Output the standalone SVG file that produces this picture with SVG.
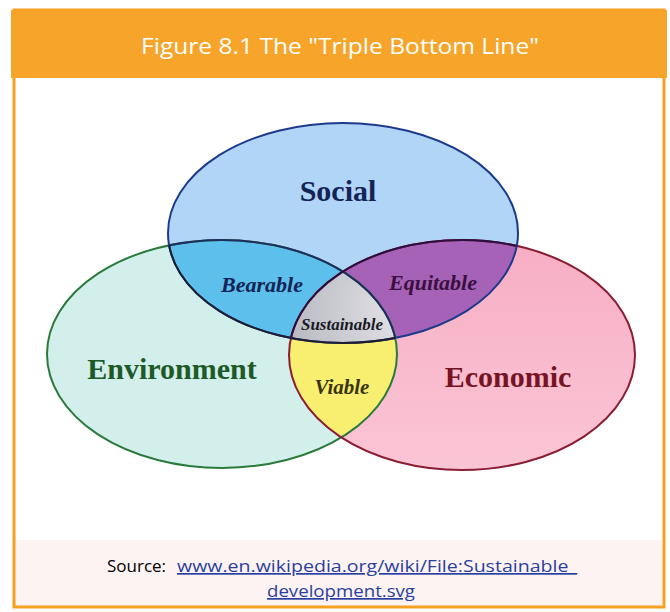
<svg xmlns="http://www.w3.org/2000/svg" width="670" height="612" viewBox="0 0 670 612">
<style>
.lbl{font-family:"Liberation Serif",serif;font-weight:bold;text-anchor:middle}
.it{font-style:italic}
.src{font-family:"Open Sans","Liberation Sans",sans-serif;font-size:17px}
.lnk{fill:#2a3f9e;text-decoration:underline}
</style>
<defs>
<clipPath id="cS"><ellipse cx="343" cy="233" rx="175" ry="110"/></clipPath>
<clipPath id="cE"><ellipse cx="222" cy="354" rx="175" ry="114"/></clipPath>
<clipPath id="cC"><ellipse cx="462" cy="355" rx="173" ry="115"/></clipPath>
<radialGradient id="gSus" cx="0.55" cy="0.3" r="0.8">
<stop offset="0" stop-color="#ffffff"/>
<stop offset="1" stop-color="#9a9aa8"/>
</radialGradient>
<linearGradient id="gPink" x1="0" y1="0" x2="0" y2="1">
<stop offset="0" stop-color="#f7aec4"/>
<stop offset="1" stop-color="#fbc5d5"/>
</linearGradient>
</defs>
<rect x="0" y="0" width="670" height="612" fill="#ffffff"/>
<rect x="14" y="540" width="648" height="66" fill="#fdf3f3"/>
<rect x="14" y="10" width="650" height="597" fill="none" stroke="#f5a020" stroke-width="3"/>
<rect x="11" y="10" width="656" height="68" fill="#f6a52a"/>
<text x="340" y="54" font-family="Open Sans, Liberation Sans, sans-serif" font-size="22" fill="#ffffff" text-anchor="middle" textLength="398" lengthAdjust="spacingAndGlyphs">Figure 8.1 The "Triple Bottom Line"</text>

<g id="environment">
<ellipse cx="222" cy="354" rx="175" ry="114" fill="#d3efeb"/>
</g>
<g id="economic">
<ellipse cx="462" cy="355" rx="173" ry="115" fill="url(#gPink)"/>
</g>
<g id="social">
<ellipse cx="343" cy="233" rx="175" ry="110" fill="#b0d5f7"/>
</g>
<g id="bearable">
<g clip-path="url(#cS)"><ellipse cx="222" cy="354" rx="175" ry="114" fill="#5cbfec"/></g>
</g>
<g id="equitable">
<g clip-path="url(#cS)"><ellipse cx="462" cy="355" rx="173" ry="115" fill="#a662b6"/></g>
</g>
<g id="viable">
<g clip-path="url(#cE)"><ellipse cx="462" cy="355" rx="173" ry="115" fill="#f8ef70"/></g>
</g>
<g id="sustainable">
<g clip-path="url(#cS)"><g clip-path="url(#cE)"><ellipse cx="462" cy="355" rx="173" ry="115" fill="url(#gSus)"/></g></g>
</g>
<g id="outlines" fill="none" stroke-width="2">
<ellipse cx="222" cy="354" rx="175" ry="114" stroke="#2a7a3c"/>
<ellipse cx="462" cy="355" rx="173" ry="115" stroke="#8a1c34"/>
<ellipse cx="343" cy="233" rx="175" ry="110" stroke="#1c3a8c"/>
<g clip-path="url(#cS)"><ellipse cx="222" cy="354" rx="175" ry="114" stroke="#1e2e60"/><ellipse cx="462" cy="355" rx="173" ry="115" stroke="#2a1040"/></g>
<g clip-path="url(#cE)"><ellipse cx="343" cy="233" rx="175" ry="110" stroke="#1e1e30"/></g>
</g>
<g id="labels">
<text class="lbl" x="338" y="201" font-size="30" fill="#142456">Social</text>
<text class="lbl" x="172" y="379" font-size="30" fill="#1c5a28">Environment</text>
<text class="lbl" x="508" y="387" font-size="30" fill="#761424">Economic</text>
<text class="lbl it" x="262" y="292" font-size="22" fill="#142456">Bearable</text>
<text class="lbl it" x="433" y="290" font-size="22" fill="#3a1040">Equitable</text>
<text class="lbl it" x="342" y="330" font-size="16" fill="#1a1a24" textLength="82" lengthAdjust="spacingAndGlyphs">Sustainable</text>
<text class="lbl it" x="342" y="394" font-size="21" fill="#3a3414">Viable</text>
</g>
<text class="src" x="107" y="572">Source: <tspan class="lnk" x="177" textLength="400" lengthAdjust="spacingAndGlyphs">www.en.wikipedia.org/wiki/File:Sustainable_</tspan></text>
<text class="src lnk" x="341" y="597" text-anchor="middle" textLength="148" lengthAdjust="spacingAndGlyphs">development.svg</text>
</svg>
